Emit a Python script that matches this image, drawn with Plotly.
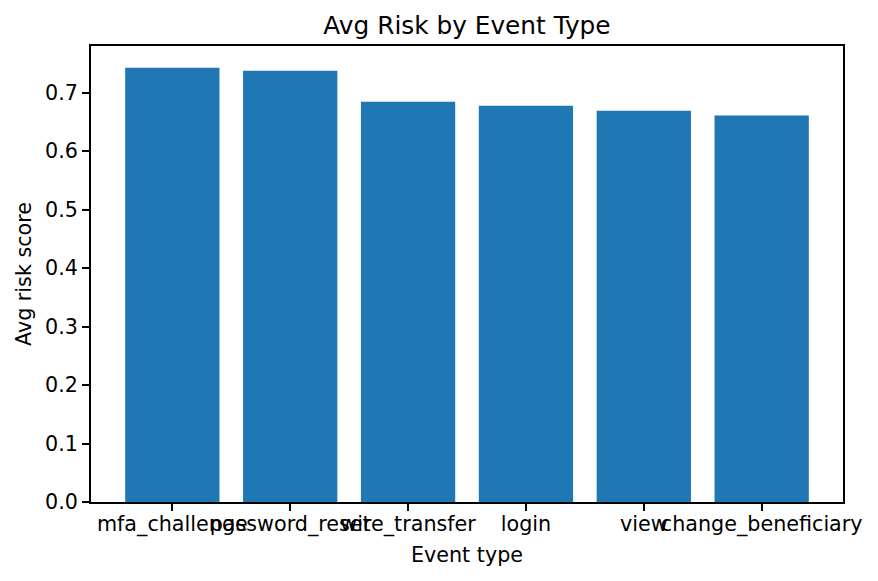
import plotly.graph_objects as go

# -------------------- Data --------------------
event_types = ["mfa_challenge", "password_reset", "wire_transfer", "login", "view", "change_beneficiary"]
avg_risk = [0.7427, 0.7376, 0.6847, 0.6778, 0.6693, 0.6608]

BAR_COLOR = "#1f77b4"
FONT = "DejaVu Sans"
TICK_PX = 20.7
LINE_W = 1.66
W, H = 878, 581
OFF = 8  # page body margin in the browser

fig = go.Figure()
fig.add_trace(go.Bar(
    x=list(range(len(event_types))), y=avg_risk,
    marker=dict(color=BAR_COLOR, line=dict(width=0)),
    width=0.8,
))

# matplotlib-like auto margins (5%)
ymax = max(avg_risk) * 1.05
n = len(event_types)
xpad = (n - 1 + 0.8) * 0.05

fig.update_layout(
    width=W, height=H,
    margin=dict(l=91 - OFF, r=35 + OFF, t=46 - OFF, b=79 + OFF),
    paper_bgcolor="white", plot_bgcolor="white",
    font=dict(family=FONT, size=TICK_PX, color="black"),
    showlegend=False,
    title=dict(text="Avg Risk by Event Type", x=0.5, xref="paper",
               y=1 - (25 - OFF) / H, yref="container", yanchor="middle",
               font=dict(size=24.8, color="black")),
)
fig.update_xaxes(
    range=[-0.4 - xpad, n - 1 + 0.4 + xpad],
    tickmode="array", tickvals=list(range(n)), ticktext=event_types,
    tickangle=0, ticks="outside", ticklen=7, tickwidth=LINE_W, tickcolor="black",
    ticklabelstandoff=-5,
    showline=True, linewidth=LINE_W, linecolor="black", mirror=True,
    showgrid=False, zeroline=False,
    title=dict(text="Event type", standoff=12, font=dict(size=TICK_PX)),
)
fig.update_yaxes(
    range=[0, ymax], dtick=0.1, tickformat=".1f",
    ticks="outside", ticklen=7, tickwidth=LINE_W, tickcolor="black",
    showline=True, linewidth=LINE_W, linecolor="black", mirror=True,
    showgrid=False, zeroline=False,
    title=dict(text="Avg risk score", standoff=8, font=dict(size=TICK_PX)),
)

fig.write_html("out.html")
